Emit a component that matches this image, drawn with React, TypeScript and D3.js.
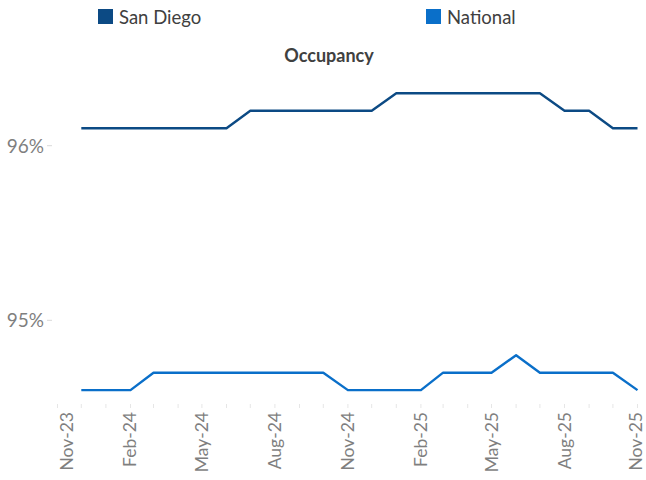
import React from "react";
import * as d3 from "d3";

const months = [
  "2023-12","2024-01","2024-02","2024-03","2024-04","2024-05","2024-06","2024-07","2024-08","2024-09","2024-10","2024-11",
  "2024-12","2025-01","2025-02","2025-03","2025-04","2025-05","2025-06","2025-07","2025-08","2025-09","2025-10","2025-11",
];
const sanDiego = [96.1,96.1,96.1,96.1,96.1,96.1,96.1,96.2,96.2,96.2,96.2,96.2,96.2,96.3,96.3,96.3,96.3,96.3,96.3,96.3,96.2,96.2,96.1,96.1];
const national = [94.6,94.6,94.6,94.7,94.7,94.7,94.7,94.7,94.7,94.7,94.7,94.6,94.6,94.6,94.6,94.7,94.7,94.7,94.8,94.7,94.7,94.7,94.7,94.6];
const yTicks = [95, 96];
const xLabelMonths = ["2023-11","2024-02","2024-05","2024-08","2024-11","2025-02","2025-05","2025-08","2025-11"];
const seriesNames = ["San Diego", "National"];
const colors = ["#0C4A84", "#0A6FC9"];

const parse = d3.timeParse("%Y-%m");
const fmt = d3.timeFormat("%b-%y");
const FONT = "Lato, 'Open Sans', 'Liberation Sans', sans-serif";

export default function App() {
  const W = 646, H = 480;
  const x = d3.scaleTime().domain([parse("2023-11")!, parse("2025-11")!]).range([57.5, 637.5]);
  const y = d3.scaleLinear().domain([95, 96]).range([320.3, 145.7]);
  const allMonths = d3.timeMonth.range(parse("2023-11")!, d3.timeMonth.offset(parse("2025-11")!, 1));
  const line = d3.line<number>().x((_, i) => x(parse(months[i])!)).y((d) => y(d));
  const series = [sanDiego, national];
  const legendX = [98, 426];

  return (
    <svg width={W} height={H} style={{ position: "absolute", left: 0, top: 0, background: "#fff" }}>
      {seriesNames.map((n, i) => (
        <g key={n}>
          <rect x={legendX[i]} y={9} width={15} height={15} fill={colors[i]} />
          <text x={legendX[i] + 21} y={23.5} fontFamily={FONT} fontSize={18.5} fill="#404040">{n}</text>
        </g>
      ))}
      <text x={329} y={62} textAnchor="middle" fontFamily={FONT} fontSize={18} fontWeight="bold" fill="#404040">Occupancy</text>
      {yTicks.map((t) => (
        <g key={t}>
          <line x1={47} x2={52} y1={y(t)} y2={y(t)} stroke="#d9d9d9" />
          <text x={44} y={y(t) + 7} textAnchor="end" fontFamily={FONT} fontSize={19} fill="#7f7f7f">{t}%</text>
        </g>
      ))}
      {allMonths.map((m, i) => (
        <line key={i} x1={x(m)} x2={x(m)} y1={404} y2={408} stroke="#e6e6e6" />
      ))}
      {xLabelMonths.map((s, i) => {
        const px = x(parse(s)!) + (i === 0 ? 9 : 0);
        return (
          <text key={s} transform={`translate(${Math.min(px + 6, 642)},${412}) rotate(-90)`} textAnchor="end"
            fontFamily={FONT} fontSize={17.5} fill="#7f7f7f">{fmt(parse(s)!)}</text>
        );
      })}
      {series.map((s, i) => (
        <path key={i} d={line(s)!} fill="none" stroke={colors[i]} strokeWidth={2.4} strokeLinejoin="round" />
      ))}
    </svg>
  );
}
